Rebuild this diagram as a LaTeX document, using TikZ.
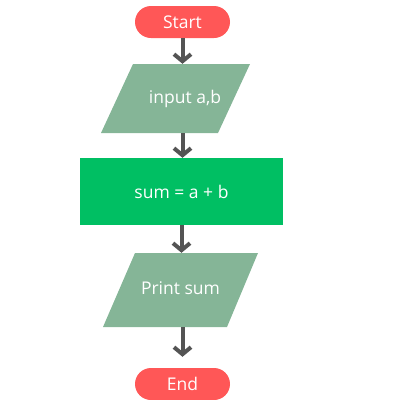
\documentclass[tikz,border=0pt]{standalone}
\usepackage{fontspec}
\setmainfont{Open Sans}
\usetikzlibrary{shapes.misc,arrows.meta,backgrounds}
\definecolor{rojo}{HTML}{FF5757}
\definecolor{salvia}{HTML}{85B597}
\definecolor{verde}{HTML}{00BF63}
\definecolor{gris}{HTML}{545454}
\begin{document}
\begin{tikzpicture}[x=1pt,y=-1pt,
  every node/.style={text=white,font=\fontsize{17.5}{20}\selectfont,inner sep=0pt},
  terminal/.style={rounded rectangle,fill=rojo,minimum width=95pt,minimum height=32pt},
  proceso/.style={rectangle,fill=verde,minimum width=203pt,minimum height=67pt},
  flecha/.style={draw=gris,line width=4pt,-{Straight Barb[length=7pt,width=17pt]}}]
\useasboundingbox (0,0) rectangle (400,400);
%
% bloques
\node[terminal] (inicio) at (182.5,22) {Start};
\node[minimum height=69pt] (entrada) at (185,98.5) {input a,b};
\node[proceso] (suma) at (181.5,191.5) {sum = a + b};
\node[minimum height=74pt] (salida) at (180.5,290) {\raisebox{3.5pt}{Print sum}};
\node[terminal] (fin) at (182.5,384) {End};
%
% paralelogramos de entrada y salida
\begin{scope}[on background layer]
\fill[salvia] (133,64) -- (250,64) -- (218,133) -- (101,133) -- cycle;
\fill[salvia] (135,253) -- (258,253) -- (227,327) -- (103,327) -- cycle;
\end{scope}
%
% flechas
\draw[flecha] (inicio.south) -- (entrada.north -| inicio);
\draw[flecha] (entrada.south -| inicio) -- (suma.north -| inicio);
\draw[flecha] (suma.south) -- (salida.north -| suma);
\draw[flecha] (salida.south -| fin) -- ([yshift=11pt]fin.north);
\end{tikzpicture}
\end{document}
